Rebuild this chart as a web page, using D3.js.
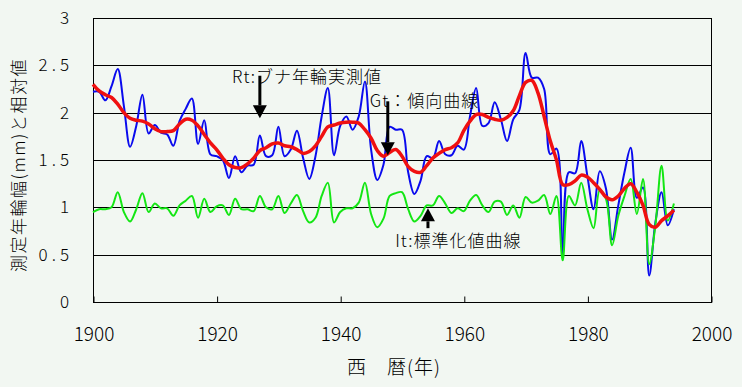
<!DOCTYPE html>
<html>
<head>
<meta charset="utf-8">
<script src="https://cdn.jsdelivr.net/npm/d3@7"></script>
<style>
	html, body { margin: 0; padding: 0; background: #f2f7f2; }
	svg { display: block; }
	text { font-family: "Noto Sans CJK JP", "DejaVu Sans", sans-serif; font-weight: 300; fill: #000; }
</style>
</head>
<body>
<svg id="plot" width="742" height="387"></svg>
<script>
// years of the ring series
const YEARS = d3.range(1900, 1995);

// Rt: measured beech ring width (mm)
const RT_VALUES = [
	2.22, 2.22, 2.13, 2.28, 2.46, 2.07, 1.64, 1.86, 2.19, 1.78,
	1.87, 1.79, 1.77, 1.65, 1.91, 2.04, 2.15, 1.67, 1.92, 1.56,
	1.54, 1.50, 1.31, 1.54, 1.37, 1.44, 1.45, 1.76, 1.54, 1.55,
	1.85, 1.54, 1.61, 1.81, 1.52, 1.30, 1.54, 1.96, 2.26, 1.55,
	1.86, 1.96, 1.82, 1.96, 2.33, 1.61, 1.29, 1.45, 1.85, 1.82,
	1.82, 1.37, 1.14, 1.28, 1.54, 1.52, 1.70, 1.56, 1.55, 1.65,
	1.61, 1.96, 2.26, 1.86, 1.89, 2.11, 1.93, 1.70, 1.93, 2.03,
	2.63, 2.37, 2.37, 2.25, 1.56, 1.62, 0.51, 1.37, 1.36, 1.70,
	1.33, 0.98, 1.38, 1.20, 0.66, 1.02, 1.37, 1.63, 1.10, 1.21,
	0.28, 0.84, 1.16, 0.81, 0.98
];

// Gt: trend curve
const GT_VALUES = [
	2.30, 2.23, 2.19, 2.16, 2.09, 2.00, 1.94, 1.92, 1.91, 1.88,
	1.83, 1.80, 1.80, 1.81, 1.88, 1.93, 1.92, 1.86, 1.77, 1.68,
	1.61, 1.52, 1.45, 1.42, 1.42, 1.46, 1.52, 1.60, 1.63, 1.67,
	1.68, 1.65, 1.64, 1.61, 1.57, 1.59, 1.65, 1.75, 1.85, 1.87,
	1.89, 1.90, 1.90, 1.89, 1.82, 1.73, 1.60, 1.54, 1.58, 1.61,
	1.54, 1.43, 1.38, 1.37, 1.44, 1.52, 1.57, 1.61, 1.63, 1.68,
	1.81, 1.91, 1.98, 1.98, 1.95, 1.93, 1.92, 1.95, 2.02, 2.18,
	2.32, 2.34, 2.21, 1.96, 1.70, 1.50, 1.24, 1.24, 1.28, 1.34,
	1.32, 1.26, 1.19, 1.11, 1.08, 1.12, 1.20, 1.25, 1.16, 1.02,
	0.82, 0.79, 0.86, 0.91, 0.97
];

// It: standardized index curve
const IT_VALUES = [
	0.95, 0.98, 0.98, 1.00, 1.16, 0.95, 0.85, 0.98, 1.15, 0.95,
	1.04, 0.99, 0.99, 0.91, 1.02, 1.07, 1.12, 0.89, 1.09, 0.95,
	1.01, 1.02, 0.92, 1.09, 0.98, 0.98, 0.96, 1.12, 1.00, 0.98,
	1.12, 0.94, 1.04, 1.13, 0.96, 0.84, 0.89, 1.12, 1.26, 0.84,
	0.95, 0.99, 0.99, 1.05, 1.26, 0.93, 0.79, 0.88, 1.12, 1.15,
	1.16, 0.98, 0.85, 0.91, 1.02, 1.02, 1.12, 1.04, 0.94, 0.99,
	0.96, 1.07, 1.13, 1.02, 0.95, 1.06, 1.06, 0.92, 1.02, 0.89,
	1.11, 1.05, 1.07, 1.13, 0.93, 1.12, 0.44, 1.12, 1.02, 1.26,
	0.98, 0.78, 1.18, 1.09, 0.60, 0.91, 1.12, 1.30, 0.93, 1.30,
	0.40, 0.81, 1.44, 0.86, 1.04
];

const X_TICKS = [1900, 1920, 1940, 1960, 1980, 2000];
const Y_TICKS = [0, 0.5, 1, 1.5, 2, 2.5, 3];
const Y_TICK_LABELS = ['0', '0.5', '1', '1.5', '2', '2.5', '3'];

const X_TITLE = '西　暦(年)';
const Y_TITLE = '測定年輪幅(mm)と相対値';

// annotation labels: text, text anchor point, arrow from/to (year, value)
const NOTES = [
	{ text: 'Rt:ブナ年輪実測値', x: 1922.5, y: 2.38, from: [1927.0, 2.39], to: [1927.0, 1.94] },
	{ text: 'Gt：傾向曲線', x: 1944.8, y: 2.12, from: [1947.7, 2.12], to: [1947.7, 1.55] },
	{ text: 'It:標準化値曲線', x: 1948.9, y: 0.64, from: [1954.2, 0.78], to: [1954.2, 0.99] }
];

const MARGIN = { top: 18, left: 93, width: 618, height: 284 };

function drawChart() {
	const svg = d3.select('#plot');
	const W = MARGIN.width, H = MARGIN.height;

	const x = d3.scaleLinear().domain([1900, 2000]).range([0, W]);
	const y = d3.scaleLinear().domain([0, 3]).range([H, 0]);

	const g = svg.append('g')
		.attr('transform', `translate(${MARGIN.left},${MARGIN.top})`);

	/* horizontal grid lines */
	g.append('g')
		.selectAll('line')
		.data(Y_TICKS)
		.enter().append('line')
			.attr('x1', 0).attr('x2', W)
			.attr('y1', d => Math.round(y(d)) + 0.5)
			.attr('y2', d => Math.round(y(d)) + 0.5)
			.attr('stroke', '#000')
			.attr('stroke-width', 1);

	/* frame */
	g.append('rect')
		.attr('x', 0.5).attr('y', 0.5)
		.attr('width', W).attr('height', H)
		.attr('fill', 'none')
		.attr('stroke', '#000')
		.attr('stroke-width', 1);

	/* x axis: inner ticks + labels */
	const xAxis = g.append('g')
		.attr('transform', `translate(0.5,${H + 0.5})`)
		.call(d3.axisBottom(x).tickValues(X_TICKS).tickSize(-6).tickPadding(18).tickFormat(d3.format('d')));
	xAxis.select('.domain').remove();
	xAxis.selectAll('line').attr('stroke', '#000');
	xAxis.selectAll('text')
		.attr('font-family', '"Noto Sans CJK JP", sans-serif')
		.attr('font-size', 19)
		.attr('dy', '0.32em')
		.attr('y', 32);

	/* y axis labels */
	const yAxis = g.append('g')
		.call(d3.axisLeft(y).tickValues(Y_TICKS).tickSize(0).tickPadding(20)
			.tickFormat((d, i) => Y_TICK_LABELS[i]));
	yAxis.select('.domain').remove();
	yAxis.selectAll('text')
		.attr('font-family', '"Noto Sans CJK JP", sans-serif')
		.attr('font-size', 17)
		.style('letter-spacing', '4px');

	/* series lines */
	const line = values => d3.line()
		.x((d, i) => x(YEARS[i]))
		.y(d => y(d))
		.curve(d3.curveCatmullRom.alpha(0.5))(values);

	g.append('path').attr('d', line(RT_VALUES))
		.attr('fill', 'none').attr('stroke', '#0a0aee').attr('stroke-width', 2);
	g.append('path').attr('d', line(IT_VALUES))
		.attr('fill', 'none').attr('stroke', '#14e614').attr('stroke-width', 2);
	g.append('path').attr('d', line(GT_VALUES))
		.attr('fill', 'none').attr('stroke', '#f01010').attr('stroke-width', 3.5);

	/* annotations */
	NOTES.forEach(n => {
		g.append('text')
			.attr('x', x(n.x)).attr('y', y(n.y))
			.attr('dy', '0.35em')
			.attr('font-size', 17)
			.style('letter-spacing', '1px')
			.text(n.text);

		const x0 = x(n.from[0]), y0 = y(n.from[1]);
		const x1 = x(n.to[0]), y1 = y(n.to[1]);
		const dir = y1 > y0 ? 1 : -1;
		const head = 13;
		g.append('line')
			.attr('x1', x0).attr('y1', y0)
			.attr('x2', x1).attr('y2', y1 - dir * head)
			.attr('stroke', '#000').attr('stroke-width', 3);
		g.append('path')
			.attr('d', `M${x1},${y1} L${x1 - 7},${y1 - dir * head} L${x1 + 7},${y1 - dir * head} Z`)
			.attr('fill', '#000');
	});

	/* axis titles */
	svg.append('text')
		.attr('x', 394).attr('y', 367)
		.attr('dy', '0.35em')
		.attr('text-anchor', 'middle')
		.attr('font-size', 19)
		.style('letter-spacing', '1px')
		.text(X_TITLE);

	svg.append('text')
		.attr('transform', 'translate(19,165) rotate(-90)')
		.attr('dy', '0.35em')
		.attr('text-anchor', 'middle')
		.attr('font-size', 17)
		.style('letter-spacing', '1.5px')
		.text(Y_TITLE);
}

drawChart();
</script>
</body>
</html>
